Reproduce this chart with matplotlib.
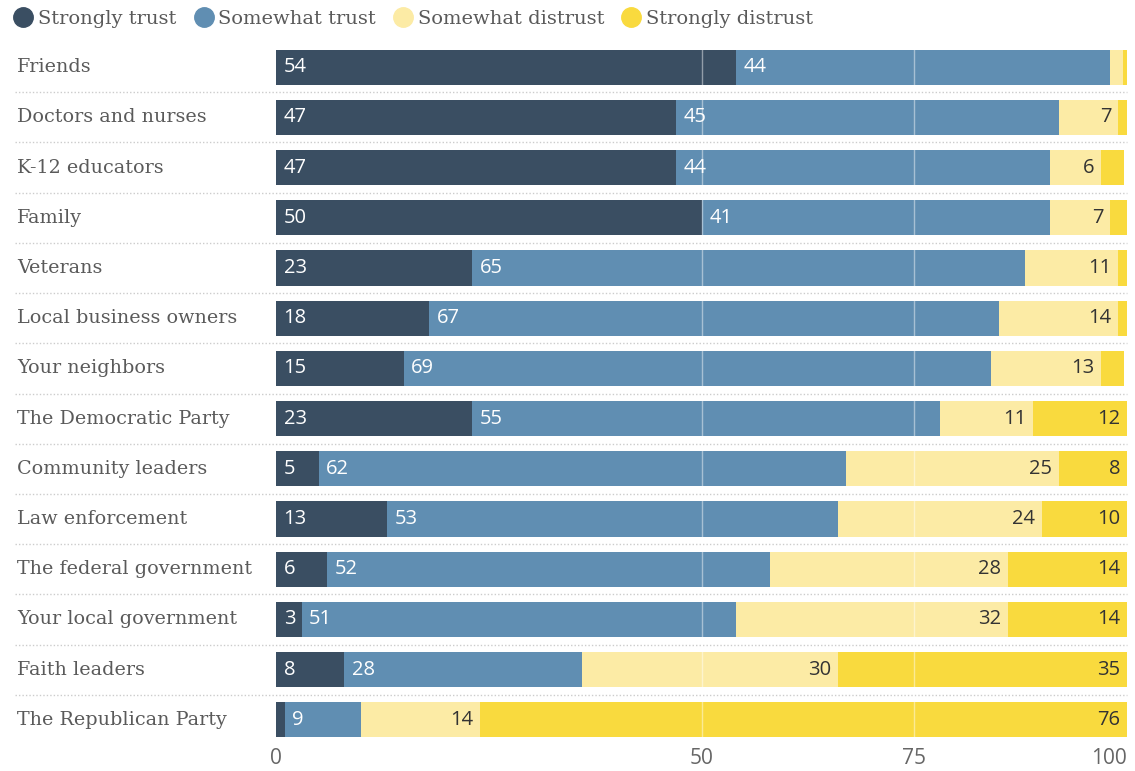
import matplotlib.pyplot as plt
from matplotlib.lines import Line2D

categories = [
    "Friends", "Doctors and nurses", "K-12 educators", "Family", "Veterans",
    "Local business owners", "Your neighbors", "The Democratic Party",
    "Community leaders", "Law enforcement", "The federal government",
    "Your local government", "Faith leaders", "The Republican Party",
]
strongly_trust = [54, 47, 47, 50, 23, 18, 15, 23, 5, 13, 6, 3, 8, 1]
somewhat_trust = [44, 45, 44, 41, 65, 67, 69, 55, 62, 53, 52, 51, 28, 9]
somewhat_distrust = [1.5, 7, 6, 7, 11, 14, 13, 11, 25, 24, 28, 32, 30, 14]
strongly_distrust = [0.5, 1, 2.7, 2, 1, 1, 2.7, 12, 8, 10, 14, 14, 35, 76]

series = [
    ("Strongly trust", strongly_trust, "#3a4e62", "white", "left"),
    ("Somewhat trust", somewhat_trust, "#608eb2", "white", "left"),
    ("Somewhat distrust", somewhat_distrust, "#fcebA5", "#333333", "right"),
    ("Strongly distrust", strongly_distrust, "#f9da3e", "#333333", "right"),
]

SERIF = "DejaVu Serif"
SANS = "Open Sans"
TEXT_GRAY = "#5a5a5a"

fig = plt.figure(figsize=(11.35, 7.71), dpi=100)
ax = fig.add_axes([276 / 1135, 1 - 745 / 771, 851 / 1135, 703 / 771])

rows = list(range(len(categories)))
lefts = [0.0] * len(categories)
for name, values, color, txt_color, align in series:
    ax.barh(rows, values, left=lefts, height=0.7, color=color, zorder=2)
    for i, v in enumerate(values):
        if v >= 3:
            start = lefts[i]
            end = min(start + v, 100)
            if align == "left":
                ax.text(start + 0.9, i, f"{v:g}", ha="left", va="center",
                        color=txt_color, fontsize=14.5, family=SANS, zorder=4)
            else:
                ax.text(end - 0.8, i, f"{v:g}", ha="right", va="center",
                        color=txt_color, fontsize=14.5, family=SANS, zorder=4)
    lefts = [l + v for l, v in zip(lefts, values)]

# faint gridlines showing through the bars
for gx in (50, 75):
    ax.axvline(gx, color="white", alpha=0.45, lw=1, zorder=3)

# category names and dotted row separators
for i, cat in enumerate(categories):
    ax.text(-0.3043, i, cat, transform=ax.get_yaxis_transform(), ha="left",
            va="center", fontsize=13.8, family=SERIF, color=TEXT_GRAY)
    if i < len(categories) - 1:
        ax.plot([-0.3067, 1.0], [i + 0.5, i + 0.5], transform=ax.get_yaxis_transform(),
                color="#cccccc", lw=1, ls=(0, (1, 1.5)), clip_on=False, zorder=1)

ax.set_xlim(0, 100)
ax.set_ylim(len(categories) - 0.5, -0.5)
ax.set_yticks([])
ax.set_xticks([0, 50, 75, 100])
ax.set_xticklabels(["0", "50", "75", "100"], family=SANS, fontsize=15, color="#666666")
ax.get_xticklabels()[-1].set_horizontalalignment("right")
ax.tick_params(axis="x", length=0, pad=2)
for s in ax.spines.values():
    s.set_visible(False)

handles = [
    Line2D([], [], marker="o", ls="none", markersize=14, color=c, label=n)
    for n, _, c, _, _ in series
]
fig.legend(handles=handles, loc="upper left", bbox_to_anchor=(0.0, 1.005), ncol=4,
           frameon=False, handlelength=1.0, handletextpad=0.25, columnspacing=0.9,
           borderaxespad=0.3, prop={"family": SERIF, "size": 14},
           labelcolor=TEXT_GRAY)

fig.savefig("out.png", dpi=100)
